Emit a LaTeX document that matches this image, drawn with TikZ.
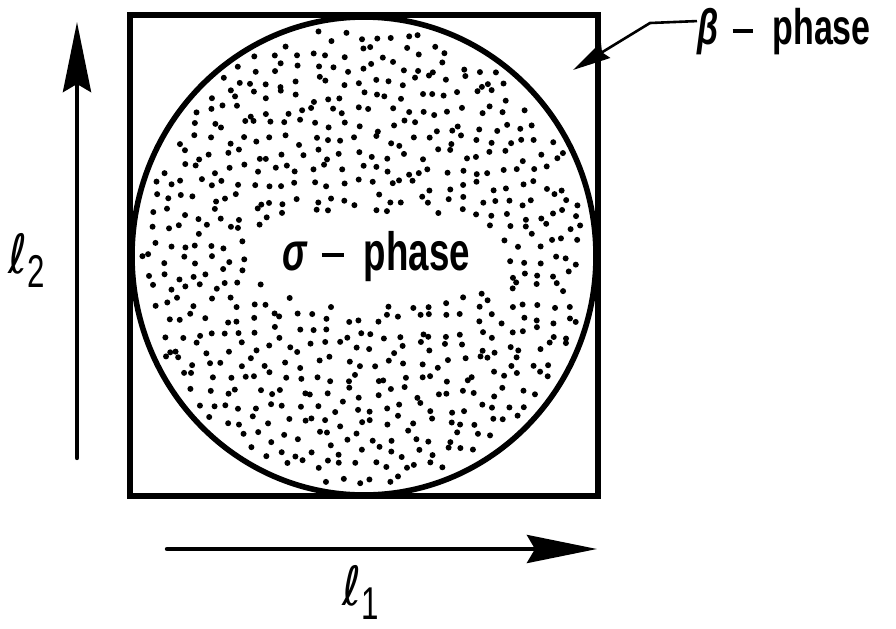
\documentclass[tikz,border=0pt]{standalone}
\usepackage{fontspec}
\setmainfont{Liberation Sans}[FakeStretch=0.68]
\newfontfamily\ellfont{DejaVu Sans}[FakeStretch=0.85]
\usetikzlibrary{arrows.meta,shapes.geometric}
\begin{document}
\begin{tikzpicture}[x=0.5pt,y=-0.5pt,
  frame/.style={draw, line width=2.8pt, inner sep=0pt, outer sep=0pt},
  axis/.style={line width=2.2pt, line cap=round, -{Stealth[length=35pt,width=14pt,inset=4pt]}},
  leader/.style={line width=1.3pt, -{Stealth[length=19pt,width=9pt,inset=2pt]}},
  dot/.style={fill=black},
  lbl/.style={inner sep=0pt, anchor=base west}]
\useasboundingbox (0,0) rectangle (896,628);
% dots
\pgfmathsetseed{11}
\foreach \i in {0,...,31}{
  \foreach \j in {0,...,32}{
    \pgfmathsetmacro{\px}{137+\i*14.8+rand*6}
    \pgfmathsetmacro{\py}{22+\j*14.8+rand*6}
    \pgfmathsetmacro{\ea}{(\px-364)/223}
    \pgfmathsetmacro{\eb}{(\py-256)/230}
    \pgfmathsetmacro{\ha}{(\px-375)/126}
    \pgfmathsetmacro{\hb}{(\py-257)/45}
    \pgfmathsetmacro{\keep}{(\ea*\ea+\eb*\eb<1)*((\ha*\ha*\ha*\ha+\hb*\hb)>1)}
    \ifdim\keep pt>0.5pt \fill[dot] (\px,\py) circle[radius=3]; \fi
  }
}
% frame and disk
\node[frame, minimum width=234pt, minimum height=240.5pt] (box) at (364,255.5) {};
\node[frame, ellipse, minimum width=232pt, minimum height=239pt] (disk) at (364,256) {};
% labels
\node[lbl, font=\bfseries\fontsize{27}{30}\selectfont] (sigma) at (282,270)
  {\textit{σ}\hspace{7pt}\rule[6.5pt]{11pt}{2pt}\hspace{10pt}phase};
\node[lbl, font=\bfseries\fontsize{25}{29}\selectfont] (beta) at (697,44)
  {\textit{β}\hspace{7pt}\rule[5.5pt]{10pt}{1.8pt}\hspace{10pt}phase};
\node[lbl] (l2) at (8,273) {\fontsize{27}{30}\selectfont\ellfont ℓ\raisebox{-7pt}{\fontsize{23}{26}\selectfont\rmfamily 2}};
\node[lbl] (l1) at (342,605) {\fontsize{27}{30}\selectfont\ellfont ℓ\raisebox{-7pt}{\fontsize{23}{26}\selectfont\rmfamily 1}};
% axes
\coordinate (v0) at (77,458);
\coordinate (v1) at (77,22);
\coordinate (h0) at (167,549);
\coordinate (h1) at (597,549);
\draw[axis] (v0) -- (v1);
\draw[axis] (h0) -- (h1);
% leader
\coordinate (bk) at (650,23);
\coordinate (btip) at (573,70);
\draw[leader] ([yshift=5pt]beta.west) -- (bk) -- (btip);
\end{tikzpicture}
\end{document}
